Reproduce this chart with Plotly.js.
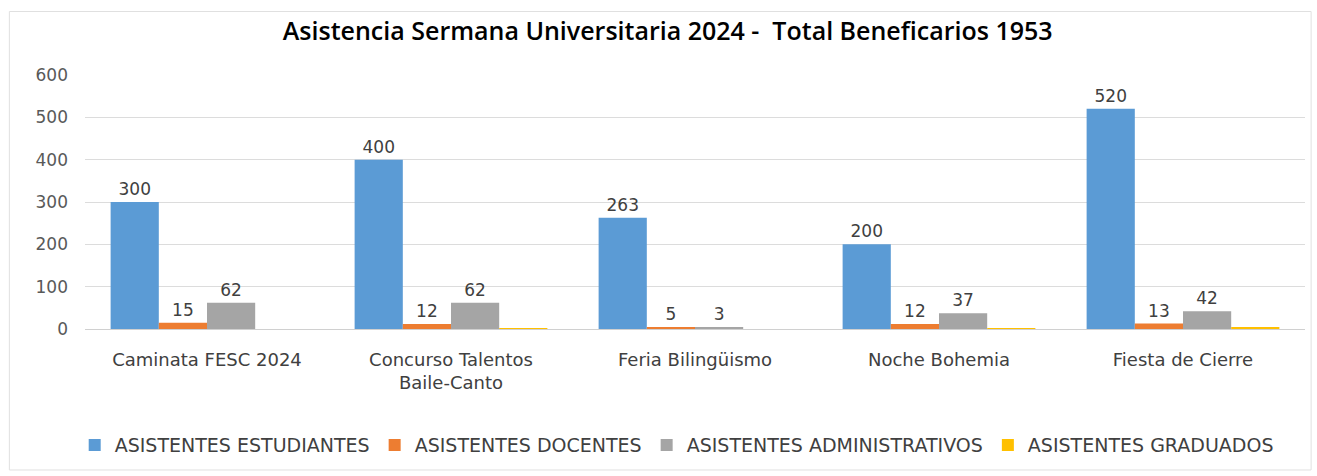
<!DOCTYPE html>
<html><head><meta charset="utf-8">
<script src="https://cdn.plot.ly/plotly-3.0.1.min.js"></script>
<style>html,body{margin:0;padding:0;background:#fff}#chart{width:1317px;height:476px}</style>
</head><body><div id="chart"></div>
<script>
const categories = ["Caminata FESC 2024", "Concurso Talentos<br>Baile-Canto", "Feria Bilingüismo", "Noche Bohemia", "Fiesta de Cierre"];
const estudiantes = [300, 400, 263, 200, 520];
const docentes = [15, 12, 5, 12, 13];
const administrativos = [62, 62, 3, 37, 42];
const graduados = [0, 2, 0, 2, 3];
const seriesNames = ["ASISTENTES ESTUDIANTES", "ASISTENTES DOCENTES", "ASISTENTES ADMINISTRATIVOS", "ASISTENTES GRADUADOS"];
const colors = ["#5b9bd5", "#ed7d31", "#a5a5a5", "#ffc000"];
const yTicks = [0, 100, 200, 300, 400, 500, 600];

const F = "DejaVu Sans, sans-serif";
function tr(vals, i, labels) {
  return {
    type: "bar", x: categories, y: vals, name: seriesNames[i],
    marker: {color: colors[i]},
    text: labels ? vals.map(String) : undefined,
    textposition: labels ? "outside" : "none",
    cliponaxis: false,
    textfont: {family: F, size: 17, color: "#404040"},
    hoverinfo: "y"
  };
}
const data = [tr(estudiantes, 0, true), tr(docentes, 1, true), tr(administrativos, 2, true), tr(graduados, 3, false)];
const layout = {
  width: 1317, height: 476,
  margin: {l: 85, r: 12, t: 75, b: 147},
  paper_bgcolor: "#fff", plot_bgcolor: "#fff",
  title: {text: "Asistencia Sermana Universitaria 2024 -  Total Beneficarios 1953", x: 0.507, xanchor: "center", y: 0.935, yanchor: "middle",
          font: {family: "Open Sans, sans-serif", size: 25, color: "#000", weight: 600}},
  barmode: "group", bargap: 0.21, bargroupgap: 0,
  xaxis: {tickfont: {family: F, size: 18, color: "#404040"}, showline: false, ticks: "", showgrid: false, ticklabelstandoff: 18},
  yaxis: {range: [0, 600], tickvals: yTicks, ticktext: yTicks.map(String), tickfont: {family: F, size: 17, color: "#595959"},
          gridcolor: "#dcdcdc", zeroline: true, zerolinecolor: "#d0d0d0", ticks: "", ticklen: 0, ticklabelstandoff: 16},
  showlegend: true,
  legend: {orientation: "h", x: 0.485, xanchor: "center", y: -0.457, yanchor: "middle",
           font: {family: F, size: 19, color: "#404040"}, traceorder: "normal", itemwidth: 30},
  shapes: [{type: "rect", xref: "paper", yref: "paper", x0: -0.062, x1: 1.005, y0: -0.555, y1: 1.25,
            line: {color: "#e0e0e0", width: 1}}]
};
Plotly.newPlot("chart", data, layout, {displayModeBar: false});
</script></body></html>
